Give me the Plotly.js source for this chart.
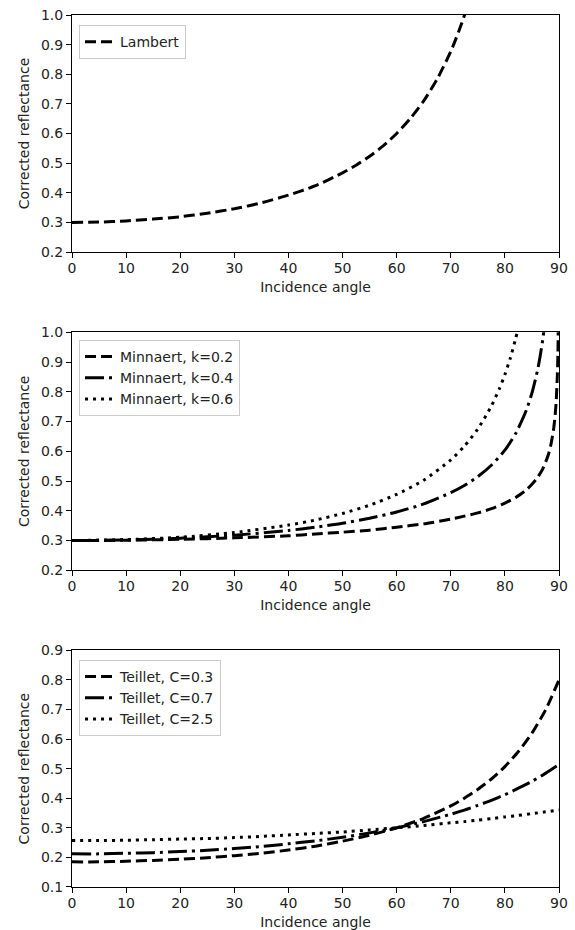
<!DOCTYPE html>
<html>
<head>
<meta charset="utf-8">
<script src="https://cdn.plot.ly/plotly-3.0.1.min.js"></script>
<style>html,body{margin:0;padding:0;background:#fff;}#chart{width:575px;height:930px;}</style>
</head>
<body>
<div id="chart"></div>
<script>
// ---- data ----
const xTitle = "Incidence angle";
const yTitle = "Corrected reflectance";

const lambertName = "Lambert";
const lambertX = [0,5,10,15,20,25,30,35,40,45,50,52.5,55,57.5,60,62.5,65,67.5,70,71,72,72.6];
const lambertY = [0.300,0.301,0.305,0.311,0.319,0.331,0.346,0.366,0.392,0.424,0.467,0.493,0.523,0.558,0.600,0.650,0.710,0.784,0.877,0.922,0.971,1.003];

const minnaertNames = ["Minnaert, k=0.2","Minnaert, k=0.4","Minnaert, k=0.6"];
const minK02X = [0,10,20,30,40,45,50,55,60,65,70,72.5,75,77.5,80,82,84,85,86,87,88,88.5,89,89.3,89.5,89.7,89.8,89.9];
const minK02Y = [0.300,0.301,0.304,0.309,0.316,0.322,0.328,0.335,0.345,0.356,0.372,0.382,0.393,0.407,0.426,0.445,0.471,0.489,0.511,0.541,0.587,0.622,0.674,0.724,0.774,0.858,0.930,1.068];
const minK04X = [0,10,20,30,40,45,50,55,60,65,70,72.5,75,77.5,80,82,84,85,86,86.5,87,87.5];
const minK04Y = [0.300,0.302,0.308,0.318,0.334,0.345,0.358,0.375,0.396,0.423,0.461,0.485,0.515,0.553,0.604,0.660,0.740,0.796,0.870,0.918,0.976,1.050];
const minK06X = [0,10,20,30,40,45,50,55,60,65,70,72.5,75,77.5,79,80,81,82,82.5];
const minK06Y = [0.300,0.303,0.311,0.327,0.352,0.369,0.391,0.419,0.455,0.503,0.571,0.617,0.675,0.752,0.811,0.858,0.913,0.980,1.018];

const teilletNames = ["Teillet, C=0.3","Teillet, C=0.7","Teillet, C=2.5"];
const teilletX = [0,5,10,15,20,25,30,35,40,45,50,55,60,65,70,72.5,75,77.5,80,82.5,85,87.5,90];
const teilC03 = [0.185,0.185,0.187,0.190,0.194,0.199,0.206,0.214,0.225,0.238,0.255,0.275,0.300,0.332,0.374,0.400,0.430,0.465,0.507,0.558,0.620,0.698,0.800];
const teilC07 = [0.212,0.212,0.214,0.216,0.220,0.224,0.230,0.237,0.246,0.256,0.268,0.283,0.300,0.321,0.346,0.360,0.376,0.393,0.412,0.434,0.457,0.484,0.514];
const teilC25 = [0.257,0.257,0.258,0.260,0.262,0.264,0.267,0.271,0.276,0.281,0.286,0.293,0.300,0.308,0.317,0.321,0.326,0.331,0.337,0.342,0.348,0.354,0.360];

const xTicks = [0,10,20,30,40,50,60,70,80,90];

// ---- styles ----
const LW = 3;
const DASH = "11px,5px";
const DASHDOT = "19px,5px,3px,5px";
const DOT = "3px,5px";
const FONT = "DejaVu Sans, sans-serif";
const TXT = "#222222";

function tr(x, y, name, dash, axisIdx, legendId, grp) {
  return {
    x: x, y: y, name: name, type: "scatter", mode: "lines",
    line: {color: "#000000", width: LW, dash: dash, shape: "spline", smoothing: 0.6},
    xaxis: axisIdx === 1 ? "x" : "x" + axisIdx,
    yaxis: axisIdx === 1 ? "y" : "y" + axisIdx,
    legend: legendId, legendgroup: grp, showlegend: true, hoverinfo: "skip"
  };
}

const data = [
  tr(lambertX, lambertY, lambertName, DASH, 1, "legend", "a1"),
  tr(minK02X, minK02Y, minnaertNames[0], DASH, 2, "legend2", "b1"),
  tr(minK04X, minK04Y, minnaertNames[1], DASHDOT, 2, "legend2", "b2"),
  tr(minK06X, minK06Y, minnaertNames[2], DOT, 2, "legend2", "b3"),
  tr(teilletX, teilC03, teilletNames[0], DASH, 3, "legend3", "c1"),
  tr(teilletX, teilC07, teilletNames[1], DASHDOT, 3, "legend3", "c2"),
  tr(teilletX, teilC25, teilletNames[2], DOT, 3, "legend3", "c3")
];

function xax(anchor) {
  return {
    anchor: anchor, range: [0, 90], tickvals: xTicks, ticktext: xTicks.map(String),
    ticks: "outside", ticklen: 5, tickwidth: 1, tickcolor: "#000",
    showline: true, mirror: true, linecolor: "#000", linewidth: 1,
    showgrid: false, zeroline: false, automargin: false, ticklabelstandoff: -2,
    tickfont: {family: FONT, size: 14, color: TXT},
    title: {text: xTitle, font: {family: FONT, size: 14, color: TXT}, standoff: 7}
  };
}
function yax(anchor, dom, lo, hi) {
  const vals = [];
  for (let v = Math.round(lo*10); v <= Math.round(hi*10); v++) vals.push(v/10);
  return {
    anchor: anchor, domain: dom, range: [lo, hi], tickvals: vals, ticktext: vals.map(v => v.toFixed(1)),
    ticks: "outside", ticklen: 5, tickwidth: 1, tickcolor: "#000",
    showline: true, mirror: true, linecolor: "#000", linewidth: 1,
    showgrid: false, zeroline: false, automargin: false,
    tickfont: {family: FONT, size: 14, color: TXT},
    title: {text: yTitle, font: {family: FONT, size: 14, color: TXT}, standoff: 8}
  };
}
function leg(y) {
  return {
    x: 0.0144, y: y, xanchor: "left", yanchor: "top",
    bgcolor: "rgba(255,255,255,0.8)", bordercolor: "#cccccc", borderwidth: 1,
    font: {family: FONT, size: 14, color: TXT}, tracegroupgap: 0, traceorder: "grouped"
  };
}

const layout = {
  width: 575, height: 930,
  margin: {l: 72, r: 16, t: 15, b: 43, pad: 0},
  paper_bgcolor: "#ffffff", plot_bgcolor: "#ffffff",
  font: {family: FONT, size: 14, color: TXT},
  xaxis: xax("y"), xaxis2: xax("y2"), xaxis3: xax("y3"),
  yaxis: yax("x", [0.7282, 1.0], 0.2, 1.0),
  yaxis2: yax("x2", [0.3632, 0.6361], 0.2, 1.0),
  yaxis3: yax("x3", [0.0, 0.2714], 0.1, 0.9),
  legend: leg(0.9885), legend2: leg(0.6273), legend3: leg(0.2603),
  showlegend: true
};

Plotly.newPlot("chart", data, layout, {staticPlot: true, displayModeBar: false});
</script>
</body>
</html>
